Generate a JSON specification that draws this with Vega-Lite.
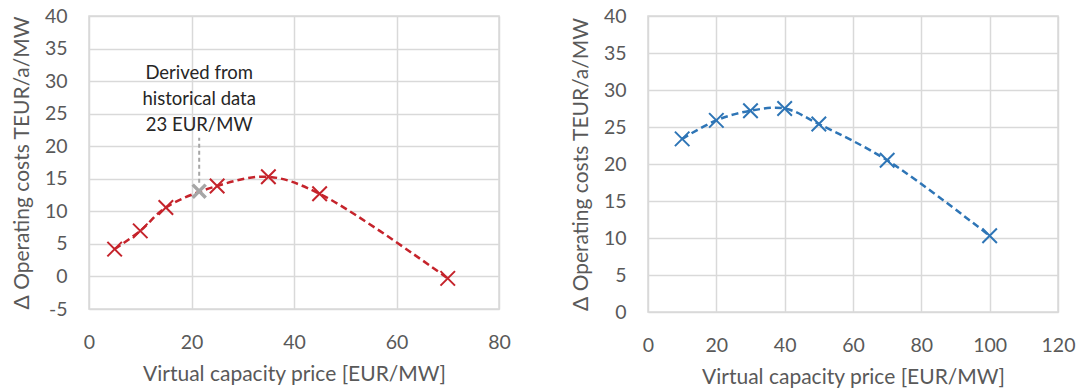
{
  "$schema": "https://vega.github.io/schema/vega-lite/v6.json",
  "padding": {"left": 10, "top": 5, "right": 0, "bottom": 0},
  "spacing": 57,
  "background": "white",
  "config": {
    "font": "Lato",
    "view": {"stroke": "#D9D9D9", "strokeWidth": 1.5},
    "axis": {
      "labelFont": "Lato", "titleFont": "Lato",
      "labelFontSize": 19.5, "titleFontSize": 21,
      "labelColor": "#595959", "titleColor": "#595959",
      "titleFontWeight": "normal",
      "gridColor": "#D9D9D9", "gridWidth": 1.5,
      "domain": false, "ticks": false,
      "labelOverlap": false, "labelFlush": false, "labelBound": false,
      "labelExpr": "replace(datum.label, '−', '-')"
    },
    "axisX": {"labelPadding": 24, "titlePadding": 12},
    "axisY": {"labelPadding": 22, "titlePadding": 12}
  },
  "datasets": {
    "left": [
      {"price": 5, "cost": 4.2},
      {"price": 10, "cost": 7.0},
      {"price": 15, "cost": 10.6},
      {"price": 25, "cost": 13.9},
      {"price": 35, "cost": 15.3},
      {"price": 45, "cost": 12.7},
      {"price": 70, "cost": -0.3}
    ],
    "hist": [{"price": 21.5, "cost": 13.1}],
    "rule": [{"price": 21.5, "y1": 14.4, "y2": 21.3}],
    "note": [{"price": 21.5, "cost": 31.2, "label": "Derived from|historical data|23 EUR/MW"}],
    "right": [
      {"price": 10, "cost": 23.4},
      {"price": 20, "cost": 25.9},
      {"price": 30, "cost": 27.2},
      {"price": 40, "cost": 27.5},
      {"price": 50, "cost": 25.4},
      {"price": 70, "cost": 20.5},
      {"price": 100, "cost": 10.3}
    ]
  },
  "hconcat": [
    {
      "width": 410,
      "height": 293,
      "encoding": {
        "x": {"field": "price", "type": "quantitative", "scale": {"domain": [0, 80], "nice": false}, "axis": {"values": [0, 20, 40, 60, 80], "labelOverlap": false, "title": "Virtual capacity price [EUR/MW]"}},
        "y": {"field": "cost", "type": "quantitative", "scale": {"domain": [-5, 40], "nice": false, "zero": false}, "axis": {"values": [-5, 0, 5, 10, 15, 20, 25, 30, 35, 40], "labelOverlap": false, "title": "Δ Operating costs TEUR/a/MW"}}
      },
      "layer": [
        {
          "data": {"name": "left"},
          "mark": {"type": "line", "color": "#C5232B", "strokeWidth": 2.5, "strokeDash": [7, 4], "interpolate": "catmull-rom"}
        },
        {
          "data": {"name": "left"},
          "mark": {"type": "point", "shape": "M-1,-1L1,1M-1,1L1,-1", "filled": false, "color": "#C5232B", "strokeWidth": 2, "size": 210, "opacity": 1}
        },
        {
          "data": {"name": "rule"},
          "mark": {"type": "rule", "color": "#A6A6A6", "strokeWidth": 2, "strokeDash": [4, 3]},
          "encoding": {
            "y": {"field": "y1", "type": "quantitative"},
            "y2": {"field": "y2"}
          }
        },
        {
          "data": {"name": "hist"},
          "mark": {"type": "point", "shape": "M-1,-1L1,1M-1,1L1,-1", "filled": false, "color": "#A6A6A6", "strokeWidth": 3.5, "size": 170, "opacity": 1}
        },
        {
          "data": {"name": "note"},
          "mark": {"type": "text", "font": "Lato", "fontSize": 18.5, "color": "#262626", "align": "center", "baseline": "middle", "lineBreak": "|", "lineHeight": 26},
          "encoding": {
            "text": {"field": "label"}
          }
        }
      ]
    },
    {
      "width": 410,
      "height": 296,
      "encoding": {
        "x": {"field": "price", "type": "quantitative", "scale": {"domain": [0, 120], "nice": false}, "axis": {"values": [0, 20, 40, 60, 80, 100, 120], "labelOverlap": false, "title": "Virtual capacity price [EUR/MW]"}},
        "y": {"field": "cost", "type": "quantitative", "scale": {"domain": [0, 40], "nice": false}, "axis": {"values": [0, 5, 10, 15, 20, 25, 30, 35, 40], "labelOverlap": false, "title": "Δ Operating costs TEUR/a/MW"}}
      },
      "layer": [
        {
          "data": {"name": "right"},
          "mark": {"type": "line", "color": "#2E75B6", "strokeWidth": 2.5, "strokeDash": [7, 4], "interpolate": "catmull-rom"}
        },
        {
          "data": {"name": "right"},
          "mark": {"type": "point", "shape": "M-1,-1L1,1M-1,1L1,-1", "filled": false, "color": "#2E75B6", "strokeWidth": 2, "size": 210, "opacity": 1}
        }
      ]
    }
  ]
}
